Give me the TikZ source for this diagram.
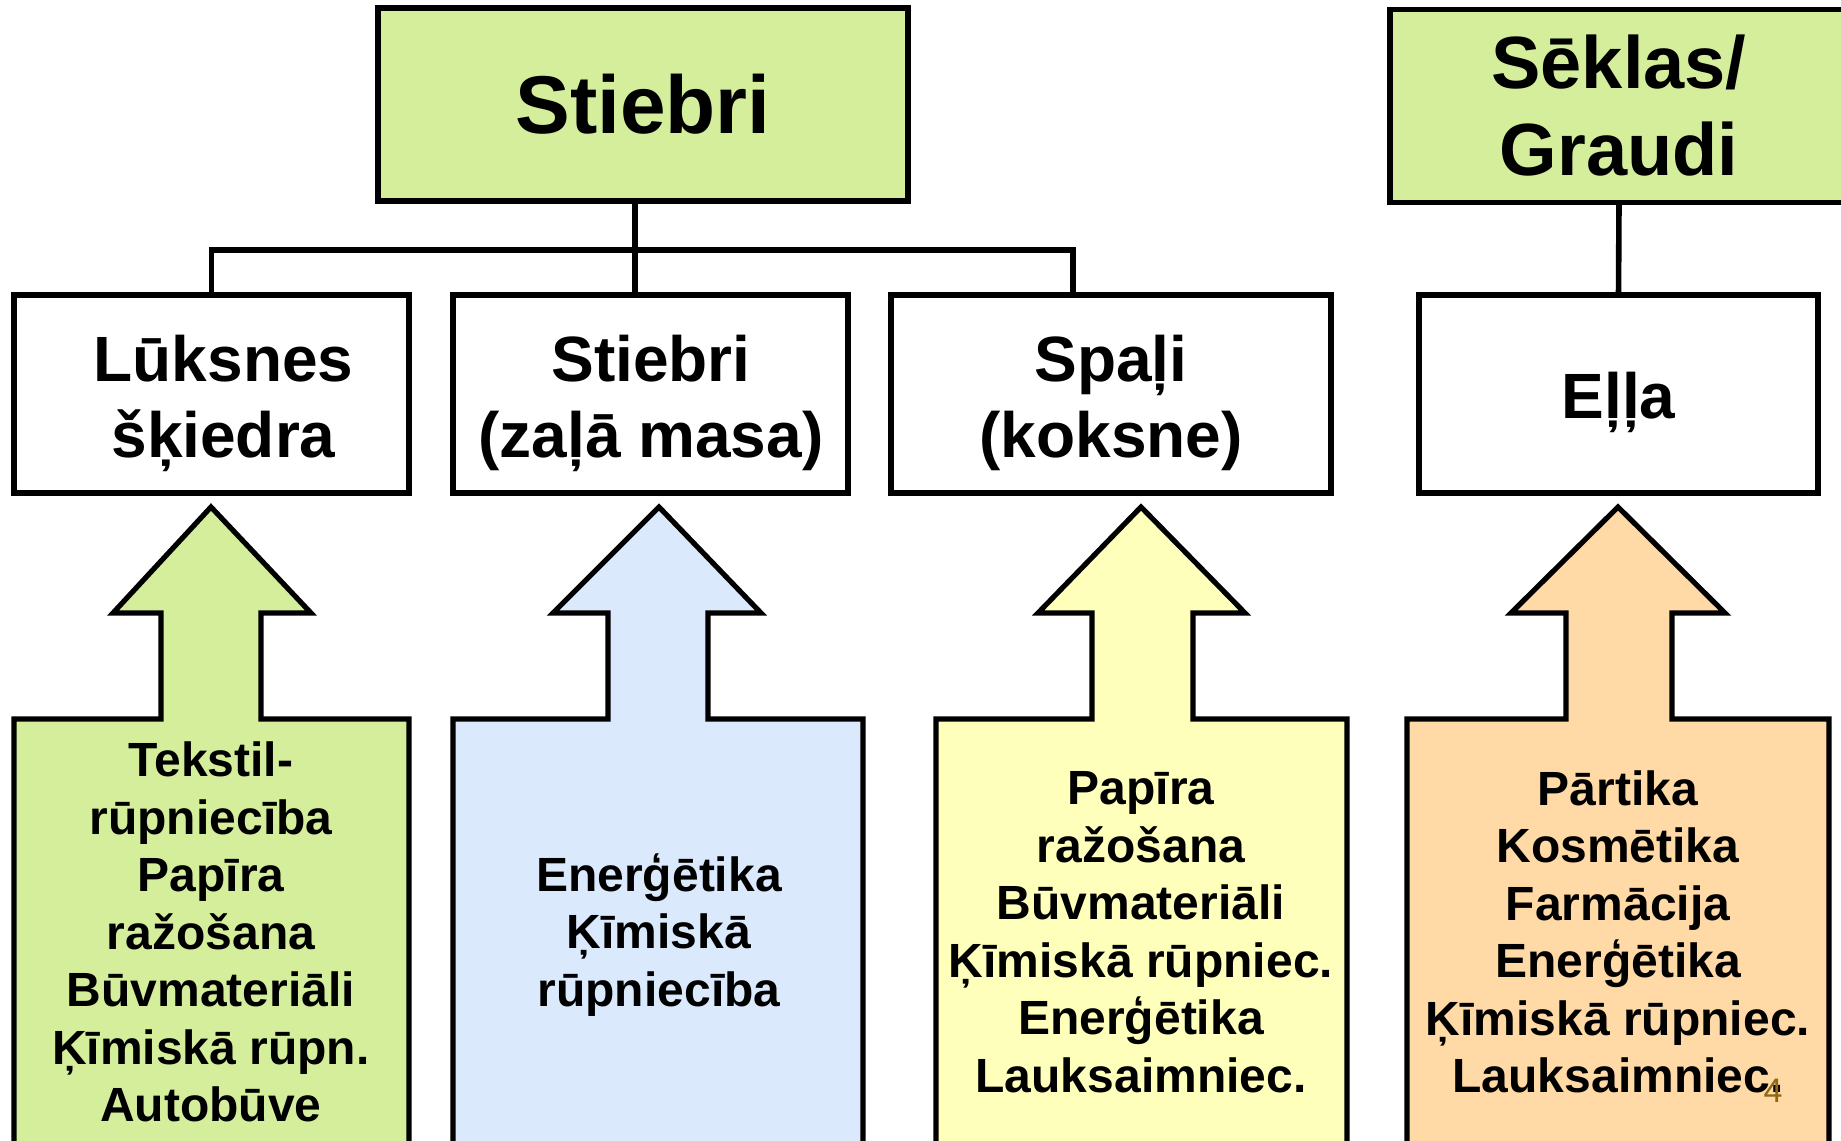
\documentclass[tikz,border=0pt]{standalone}
\usepackage{fontspec}
\setmainfont{Liberation Sans}
\definecolor{fgreen}{HTML}{D5EE9C}
\definecolor{fblue}{HTML}{DAE9FC}
\definecolor{fyellow}{HTML}{FFFFBC}
\definecolor{forange}{HTML}{FFD9A6}
\definecolor{pagenum}{HTML}{8C6A14}
\begin{document}
\begin{tikzpicture}[x=0.5pt,y=-0.5pt,
  topbox/.style={draw, line width=2.6pt, fill=fgreen, inner sep=0pt, outer sep=0pt, align=center,
    font=\bfseries\fontsize{41}{44}\selectfont, minimum height=96.5pt},
  midbox/.style={draw, line width=2.6pt, fill=white, inner sep=0pt, outer sep=0pt, minimum height=99pt},
  midtxt/.style={inner sep=0pt, align=center, font=\bfseries\fontsize{32}{38}\selectfont},
  lbl/.style={inner sep=0pt, align=center, font=\bfseries\fontsize{24}{28.75}\selectfont},
  arrowshape/.style={draw, line width=2.6pt, line join=miter},
  conn/.style={line width=2.8pt}]
\useasboundingbox (0,0) rectangle (1841,1140);

% top boxes
\node[topbox, minimum width=265pt] (top) at (643,104.5) {Stiebri};
\node[topbox, minimum width=229pt, font=\bfseries\fontsize{37}{43.5}\selectfont] (sek) at (1619,106) {Sēklas/\\Graudi};

% middle boxes
\node[midbox, minimum width=197.5pt] (L) at (211.5,394) {};
\node[midbox, minimum width=197.5pt] (S2) at (650.5,394) {};
\node[midbox, minimum width=220pt] (Sp) at (1111,394) {};
\node[midbox, minimum width=199.5pt] (E) at (1618.5,394) {};
\node[midtxt] (Lt) at (223.5,403) {Lūksnes\\šķiedra};
\node[midtxt] (S2t) at (651,403) {Stiebri\\(zaļā masa)};
\node[midtxt] (Spt) at (1111,403) {Spaļi\\(koksne)};
\node[midtxt] (Et) at (1618.5,402) {Eļļa};

% connectors
\coordinate (jm) at (635,250);
\coordinate (jr) at (1073,250);
\draw[conn] (top.south -| jm) -- (jm |- S2.north);
\draw[conn] (L.north) |- (jr) -- (jr |- Sp.north);
\draw[conn] (sek.south) -- (E.north);

% block arrows
\draw[arrowshape, fill=fgreen] (14,1160) -- (14,719) -- (161,719) -- (161,613) -- (113,613) -- (211,507)
  -- (311,613) -- (261,613) -- (261,719) -- (409,719) -- (409,1160);
\draw[arrowshape, fill=fblue] (453,1160) -- (453,719) -- (608,719) -- (608,613) -- (553,613) -- (659,507)
  -- (761,613) -- (708,613) -- (708,719) -- (863,719) -- (863,1160);
\draw[arrowshape, fill=fyellow] (936,1160) -- (936,719) -- (1092,719) -- (1092,613) -- (1038,613) -- (1141,507)
  -- (1245,613) -- (1193,613) -- (1193,719) -- (1347,719) -- (1347,1160);
\draw[arrowshape, fill=forange] (1407,1160) -- (1407,719) -- (1566,719) -- (1566,613) -- (1511,613) -- (1618,507)
  -- (1725,613) -- (1672,613) -- (1672,719) -- (1829,719) -- (1829,1160);

% labels
\node[lbl] (t1) at (211,932) {Tekstil-\\rūpniecība\\Papīra\\ražošana\\Būvmateriāli\\Ķīmiskā rūpn.\\Autobūve};
\node[lbl] (t2) at (659,935) {Enerģētika\\Ķīmiskā\\rūpniecība};
\node[lbl] (t3) at (1141,932) {Papīra\\ražošana\\Būvmateriāli\\Ķīmiskā rūpniec.\\Enerģētika\\Lauksaimniec.};
\node[lbl] (t4) at (1618,932) {Pārtika\\Kosmētika\\Farmācija\\Enerģētika\\Ķīmiskā rūpniec.\\Lauksaimniec.};
\node[inner sep=0pt, anchor=base, text=pagenum, font=\fontsize{17}{17}\selectfont] (pg) at (1773,1102) {4};
\end{tikzpicture}
\end{document}
